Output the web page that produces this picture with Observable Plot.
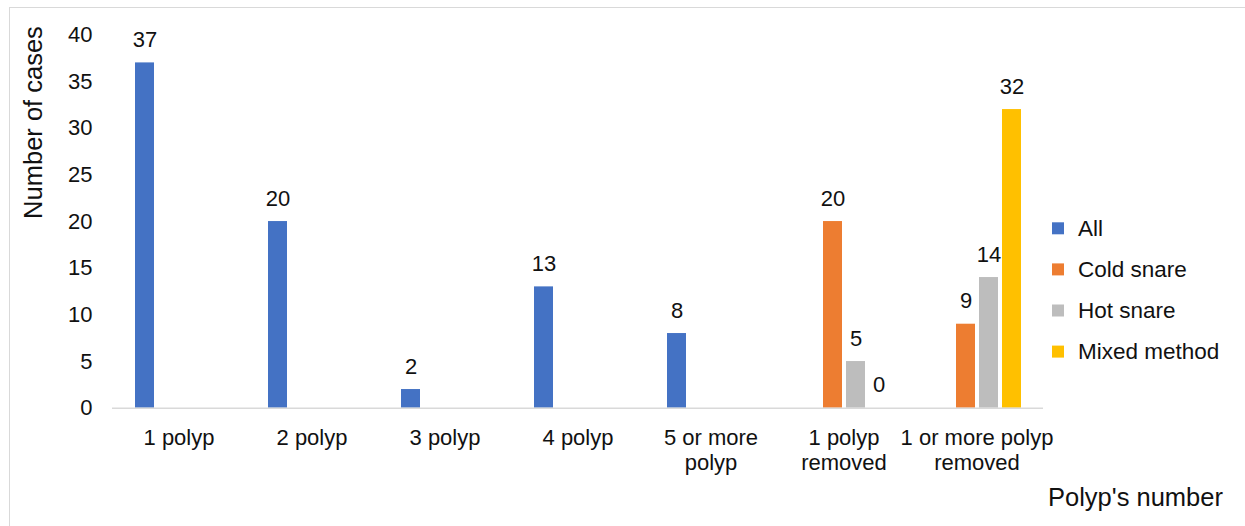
<!DOCTYPE html>
<html>
<head>
<meta charset="utf-8">
<script src="https://cdn.jsdelivr.net/npm/d3@7"></script>
<script src="https://cdn.jsdelivr.net/npm/@observablehq/plot@0.6"></script>
<style>
  html, body { margin: 0; padding: 0; background: #fff; overflow: hidden; }
  #chart { position: relative; width: 1245px; height: 526px; overflow: hidden; }
  #chart .frame {
    position: absolute; left: 9px; top: 7px; width: 1260px; height: 540px;
    border: 1.5px solid #d9d9d9; box-sizing: border-box;
  }
  #chart svg { position: absolute; left: 0; top: 0; }
</style>
</head>
<body>
<div id="chart"><div class="frame"></div></div>
<script>
// Polyp counts by category, split by removal method
const categories = ["1 polyp", "2 polyp", "3 polyp", "4 polyp", "5 or more polyp", "1 polyp removed", "1 or more polyp removed"];
const tickLabels = ["1 polyp", "2 polyp", "3 polyp", "4 polyp", "5 or more\npolyp", "1 polyp\nremoved", "1 or more polyp\nremoved"];
const series = ["All", "Cold snare", "Hot snare", "Mixed method"];
const colors = ["#4472C4", "#ED7D31", "#BDBDBD", "#FFC000"];

const allValues   = [37, 20, 2, 13, 8, null, null];
const coldSnare   = [null, null, null, null, null, 20, 9];
const hotSnare    = [null, null, null, null, null, 5, 14];
const mixedMethod = [null, null, null, null, null, 0, 32];

const yTicks = [0, 5, 10, 15, 20, 25, 30, 35, 40];
const yTitle = "Number of cases";
const xTitle = "Polyp's number";

// Long-format rows for the grouped bars (missing values are skipped)
const seriesValues = [allValues, coldSnare, hotSnare, mixedMethod];
const rows = [];
series.forEach((s, si) => {
  categories.forEach((c, ci) => {
    const v = seriesValues[si][ci];
    if (v != null) rows.push({category: c, series: s, value: v});
  });
});

const labelOf = new Map(categories.map((c, i) => [c, tickLabels[i]]));
const font = "'Liberation Sans', Arial, sans-serif";

const plot = Plot.plot({
  width: 1245,
  height: 526,
  marginLeft: 111,
  marginRight: 202,
  marginTop: 34.4,
  marginBottom: 118.3,
  style: {fontFamily: font, fontSize: "22px", color: "#111", background: "transparent", overflow: "visible"},
  fx: {domain: categories, padding: 0, label: null},
  x: {domain: series, paddingInner: 0.1875, paddingOuter: 0.867, axis: null},
  y: {domain: [0, 40], label: null},
  color: {domain: series, range: colors},
  marks: [
    Plot.axisY({ticks: yTicks, tickSize: 0, tickPadding: 20, label: null, fontSize: 22}),
    Plot.axisFx({
      anchor: "bottom", tickSize: 0, tickPadding: 18.5, label: null, fontSize: 22,
      lineHeight: 1.14, tickFormat: (d) => labelOf.get(d)
    }),
    Plot.barY(rows, {fx: "category", x: "series", y: "value", fill: "series"}),
    Plot.ruleY([0], {stroke: "#d9d9d9", strokeWidth: 1.5}),
    Plot.text(rows, {
      fx: "category", x: "series", y: "value", text: (d) => String(d.value),
      lineAnchor: "bottom", dy: -16, fontSize: 22, fill: "#111"
    })
  ]
});

const chart = document.getElementById("chart");
chart.appendChild(plot);

// Overlay for axis titles and the legend
const overlay = d3.select(chart).append("svg")
  .attr("width", 1245).attr("height", 526)
  .style("font-family", font).style("fill", "#111");

overlay.append("text")
  .attr("transform", "translate(42,122.5) rotate(-90)")
  .attr("text-anchor", "middle")
  .style("font-size", "25.5px")
  .text(yTitle);

overlay.append("text")
  .attr("x", 1048).attr("y", 505.7)
  .style("font-size", "25.5px")
  .text(xTitle);

const legend = overlay.append("g");
series.forEach((s, i) => {
  const cy = 228.3 + i * 41.1;
  legend.append("rect")
    .attr("x", 1052).attr("y", cy - 6).attr("width", 12).attr("height", 12)
    .attr("fill", colors[i]);
  legend.append("text")
    .attr("x", 1078).attr("y", cy).attr("dy", "0.34em")
    .style("font-size", "22.5px")
    .text(s);
});
</script>
</body>
</html>
